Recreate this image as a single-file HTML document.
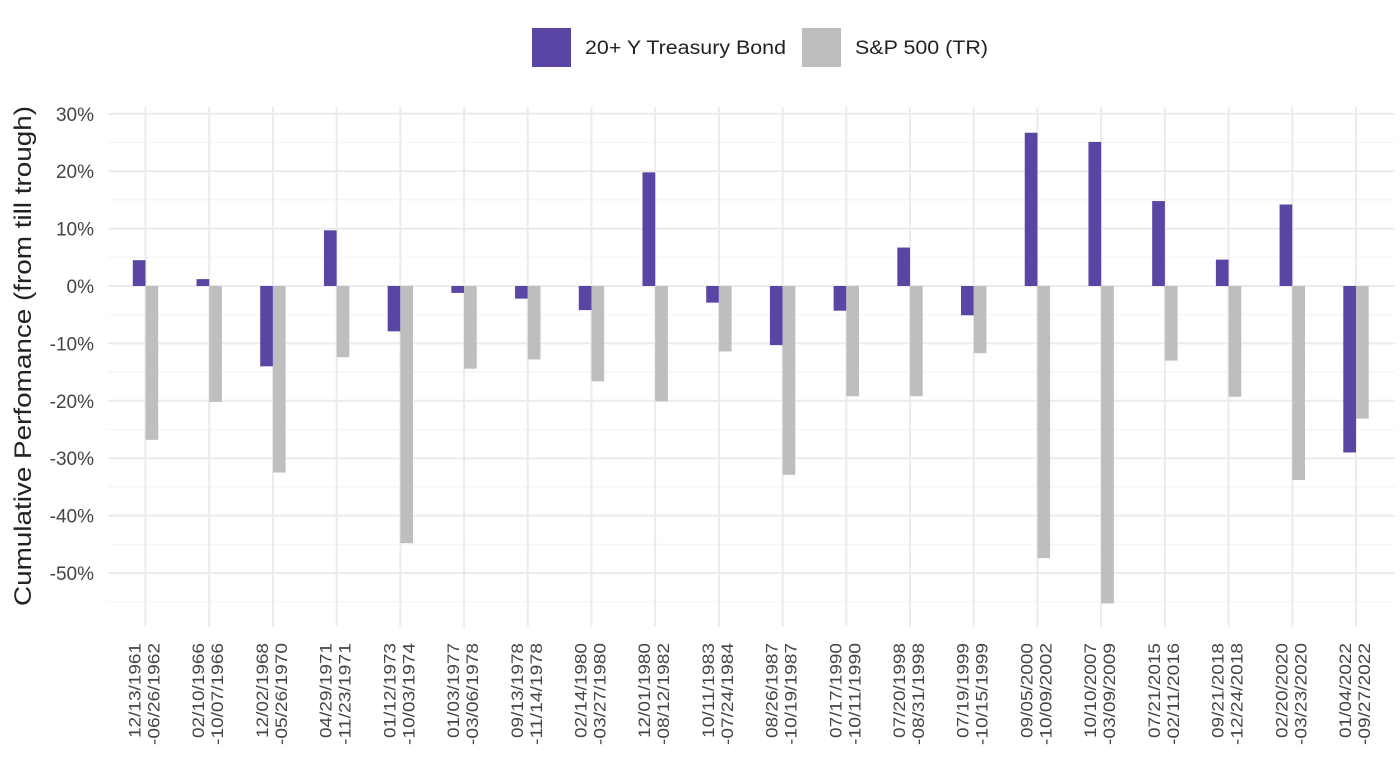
<!DOCTYPE html>
<html><head><meta charset="utf-8"><style>body{margin:0;background:#fff}svg{display:block}text{font-family:"Liberation Sans",sans-serif}</style></head><body>
<svg width="1400" height="757" xmlns="http://www.w3.org/2000/svg" id="s">
<rect width="1400" height="757" fill="#fff"/>
<g id="grid"></g>
<g id="bars"></g>
<g id="labels" fill="#444" font-size="17"></g>
<rect x="532" y="28" width="39" height="39" fill="#5a45a5"/>
<text x="585" y="54" font-size="19" fill="#222" textLength="201" lengthAdjust="spacingAndGlyphs">20+ Y Treasury Bond</text>
<rect x="802" y="28" width="39" height="39" fill="#bebebe"/>
<text x="855" y="54" font-size="19" fill="#222" textLength="133" lengthAdjust="spacingAndGlyphs">S&amp;P 500 (TR)</text>
<text transform="translate(31,356) rotate(-90)" text-anchor="middle" font-size="24" fill="#222" textLength="500" lengthAdjust="spacingAndGlyphs">Cumulative Perfomance (from till trough)</text>
</svg>
<script>
const ns="http://www.w3.org/2000/svg";
function el(p,t,a,txt){const e=document.createElementNS(ns,t);for(const k in a)e.setAttribute(k,a[k]);if(txt)e.textContent=txt;document.getElementById(p).appendChild(e);}
const y0=286,k=5.74,L=108,R=1395;
const Y=v=>y0-v*k;
for(let v=-55;v<=30;v+=5){el("grid","line",{x1:L,x2:R,y1:Y(v),y2:Y(v),stroke:v%10==0?"#ebebeb":"#f4f4f4","stroke-width":v%10==0?2:1.2});}
for(let v=-50;v<=30;v+=10){el("labels","text",{x:94,y:Y(v)+7,"text-anchor":"end","font-size":19},v+"%");}
const d=[["12/13/1961","06/26/1962",4.5,-26.8],["02/10/1966","10/07/1966",1.2,-20.2],["12/02/1968","05/26/1970",-14,-32.5],["04/29/1971","11/23/1971",9.7,-12.4],["01/12/1973","10/03/1974",-7.9,-44.8],["01/03/1977","03/06/1978",-1.2,-14.4],["09/13/1978","11/14/1978",-2.2,-12.8],["02/14/1980","03/27/1980",-4.2,-16.6],["12/01/1980","08/12/1982",19.8,-20.1],["10/11/1983","07/24/1984",-2.9,-11.4],["08/26/1987","10/19/1987",-10.3,-32.9],["07/17/1990","10/11/1990",-4.3,-19.2],["07/20/1998","08/31/1998",6.7,-19.2],["07/19/1999","10/15/1999",-5.1,-11.7],["09/05/2000","10/09/2002",26.7,-47.4],["10/10/2007","03/09/2009",25.1,-55.3],["07/21/2015","02/11/2016",14.8,-13.0],["09/21/2018","12/24/2018",4.6,-19.3],["02/20/2020","03/23/2020",14.2,-33.8],["01/04/2022","09/27/2022",-29.0,-23.1]];
const sp=(1356-145.5)/19;
d.forEach((r,i)=>{const c=145.5+i*sp;
el("grid","line",{x1:c,x2:c,y1:107,y2:627,stroke:"#ebebeb","stroke-width":2});
const bar=(x,v,col)=>el("bars","rect",{x:x,y:Math.min(Y(v),y0),width:12.7,height:Math.abs(v*k),fill:col});
bar(c-12.7,r[2],"#5a45a5");bar(c,r[3],"#bebebe");
el("labels","text",{transform:`translate(${c-5},643) rotate(-90)`,"text-anchor":"end",textLength:95,lengthAdjust:"spacingAndGlyphs"},r[0]);
el("labels","text",{transform:`translate(${c+14},643) rotate(-90)`,"text-anchor":"end",textLength:102,lengthAdjust:"spacingAndGlyphs"},"-"+r[1]);
});
</script>
</body></html>
